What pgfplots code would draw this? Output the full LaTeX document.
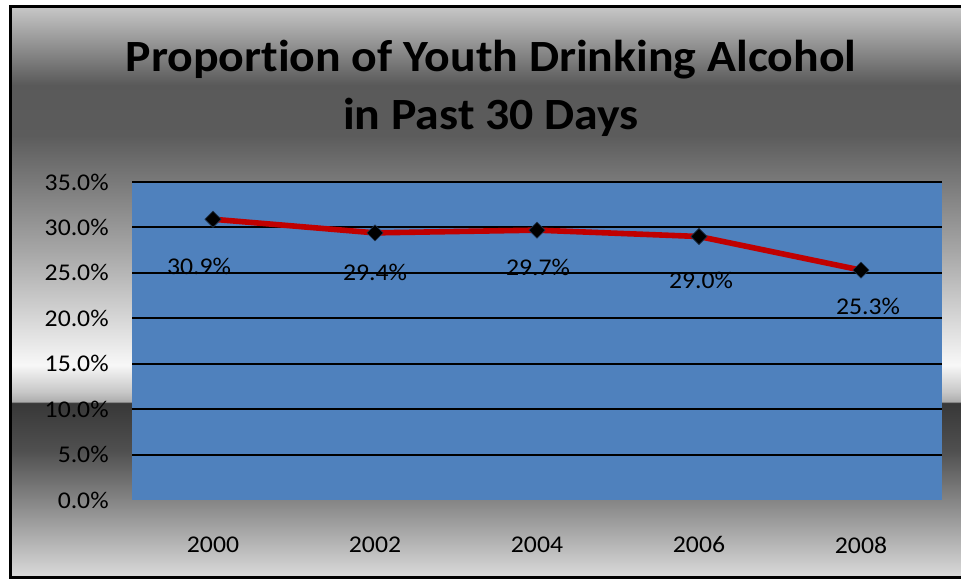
\documentclass[border=0pt]{standalone}
\usepackage{pgfplots}
\pgfplotsset{compat=1.18}
\usepackage{pgfplotstable}
\usepackage{fontspec}
\setmainfont{Carlito}[FakeStretch=1.07, Ligatures=NoCommon]

\definecolor{plotblue}{HTML}{4F81BD}
\definecolor{linered}{HTML}{C00000}

% metallic chart background; the frame is mapped to 25bp..75bp
\pgfdeclareverticalshading{metal}{100bp}{%
  color(0bp)=(black!14);
  color(25bp)=(black!14);
  color(31.83bp)=(black!48);
  color(36.21bp)=(black!69);
  color(40.32bp)=(black!78);
  color(40.46bp)=(black!32);
  color(41.29bp)=(black!22);
  color(43.65bp)=(black!3);
  color(53.72bp)=(black!35);
  color(63.79bp)=(black!64);
  color(68.17bp)=(black!65);
  color(75bp)=(black!22);
  color(100bp)=(black!22)}

\pgfplotstableread{
x  y
0  30.9
1  29.4
2  29.7
3  29.0
4  25.3
}\youthdata

% data label: position, value, shift (pt)
\newcommand\datalabel[4]{%
  \addplot[draw=none, mark=none, forget plot,
    nodes near coords={\pgfmathprintnumber[fixed,fixed zerofill,precision=1]{\pgfplotspointmeta}\%},
    every node near coord/.append style={anchor=center, text=black,
      font=\fontsize{18}{22}\selectfont, xshift=#3pt, yshift=#4pt}]
    coordinates {(#1,#2)};}

\begin{document}
\begin{tikzpicture}
\clip (0,0) rectangle (720.75pt,435.75pt);
\fill[white] (0,0) rectangle (720.75pt,435.75pt);
\shade[shading=metal] (7.5pt,2.25pt) rectangle (740pt,430.5pt);
\draw[black, line width=2.25pt] (740pt,2.25pt) -- (7.5pt,2.25pt) -- (7.5pt,430.5pt) -- (740pt,430.5pt);

\node[anchor=base, font=\bfseries\fontsize{33.5}{40}\selectfont] at (368.25pt,381.75pt) {Proportion of Youth Drinking Alcohol};
\node[anchor=base, font=\bfseries\fontsize{33.5}{40}\selectfont] at (368.25pt,338.25pt) {in Past 30 Days};

\begin{axis}[
    at={(99pt,60.75pt)},
    anchor=south west,
    scale only axis,
    width=607.5pt,
    height=238.5pt,
    xmin=-0.5, xmax=4.5,
    ymin=0, ymax=35,
    axis background/.style={fill=plotblue},
    axis line style={draw=none},
    major tick length=0pt,
    xtick={0,1,2,3,4},
    xticklabels={2000,2002,2004,2006,2008},
    ytick={5,10,...,35},
    extra y ticks={0},
    extra y tick style={grid=none},
    ymajorgrids,
    grid style={black, line width=1.5pt},
    /pgf/number format/assume math mode=true,
    yticklabel={\pgfmathprintnumber[fixed,fixed zerofill,precision=1]{\tick}\%},
    tick label style={font=\fontsize{18}{22}\selectfont},
    x tick label style={yshift=-24pt},
    y tick label style={xshift=-14pt},
    clip=false,
]

\addplot[
    color=linered,
    line width=4.2pt,
    line join=round,
    mark=square*,
    mark size=4.3pt,
    mark options={fill=black, draw=black!60!plotblue, line width=0.5pt, rotate=45},
] table[x=x, y=y] {\youthdata};

\datalabel{0}{30.9}{-10.5}{-35.25}
\datalabel{1}{29.4}{0}{-30}
\datalabel{2}{29.7}{0.75}{-27.75}
\datalabel{3}{29.0}{1.5}{-33}
\datalabel{4}{25.3}{5.25}{-27}

\end{axis}
\end{tikzpicture}
\end{document}
